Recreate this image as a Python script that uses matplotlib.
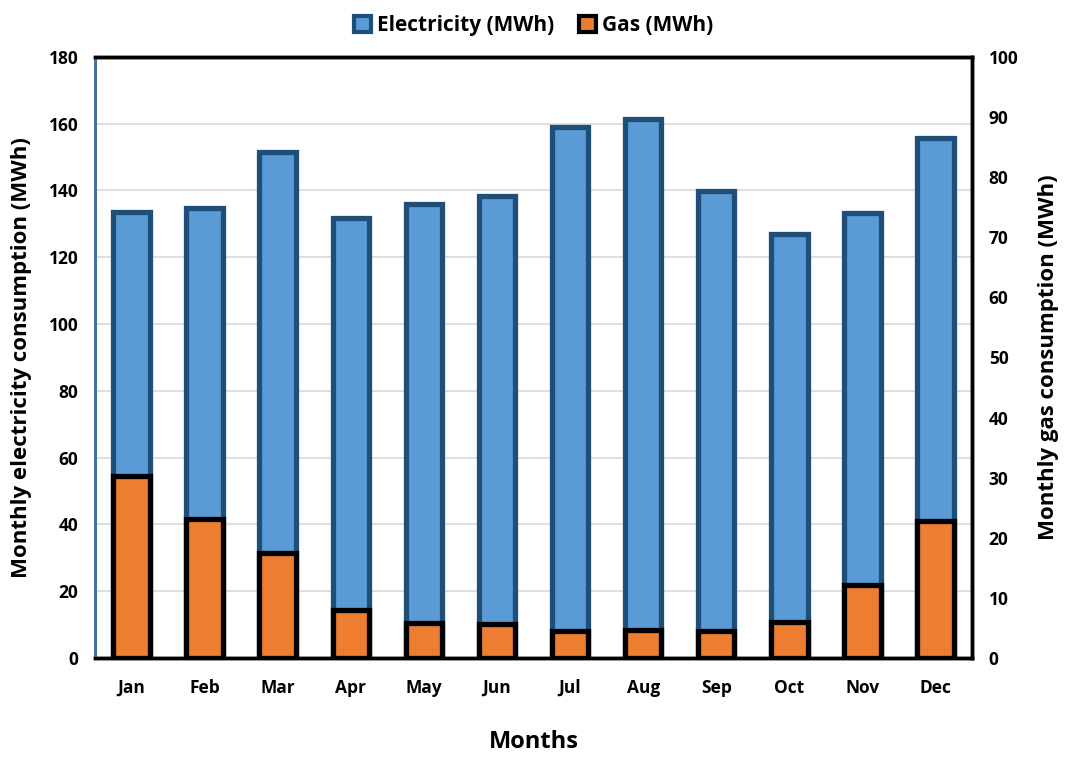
import numpy as np
import matplotlib
matplotlib.use('Agg')
import matplotlib.pyplot as plt
from matplotlib.patches import Patch

plt.rcParams['font.family'] = ['Open Sans', 'DejaVu Sans']
plt.rcParams['font.weight'] = 'bold'

months = ['Jan', 'Feb', 'Mar', 'Apr', 'May', 'Jun', 'Jul', 'Aug', 'Sep', 'Oct', 'Nov', 'Dec']
electricity = [133.6, 134.6, 151.6, 131.7, 135.9, 138.3, 159.0, 161.3, 139.8, 126.9, 133.1, 155.6]
gas = [30.2, 23.1, 17.4, 7.9, 5.8, 5.6, 4.4, 4.7, 4.5, 5.9, 12.1, 22.8]

elec_face = '#5B9BD5'
elec_edge = '#1F4E79'
gas_face = '#ED7D31'

fig = plt.figure(figsize=(10.67, 7.58), dpi=100)
ax = fig.add_axes([0.089, 0.132, 0.822, 0.793])
x = np.arange(len(months))

ax.bar(x, electricity, width=0.5, color=elec_face, edgecolor=elec_edge, linewidth=3.8, zorder=3)
ax.set_ylim(0, 180)
ax.set_yticks(range(0, 181, 20))
ax.set_xlim(-0.5, len(months) - 0.5)
ax.set_xticks(x)
ax.set_xticklabels(months)
ax.grid(axis='y', color='#D9D9D9', linewidth=1.2, zorder=0)
ax.set_axisbelow(True)
ax.tick_params(axis='y', length=0, labelsize=12.5, pad=12)
ax.tick_params(axis='x', length=0, labelsize=12.5, pad=15)
ax.set_ylabel('Monthly electricity consumption (MWh)', fontsize=16, fontweight='bold', labelpad=12)
ax.set_xlabel('Months', fontsize=17, fontweight='bold', labelpad=24)

ax2 = ax.twinx()
ax2.bar(x, gas, width=0.5, color=gas_face, edgecolor='black', linewidth=3.8, zorder=3)
ax2.set_ylim(0, 100)
ax2.set_yticks(range(0, 101, 10))
ax2.tick_params(length=0, labelsize=12.5, pad=12)
ax2.set_ylabel('Monthly gas consumption (MWh)', fontsize=16, fontweight='bold', labelpad=14)

for a in (ax, ax2):
    for s in ('top', 'right', 'bottom'):
        a.spines[s].set_color('black')
        a.spines[s].set_linewidth(2.5)
    a.spines['left'].set_color('#41719C')
    a.spines['left'].set_linewidth(2)

handles = [Patch(facecolor=elec_face, edgecolor=elec_edge, linewidth=3, label='Electricity (MWh)'),
           Patch(facecolor=gas_face, edgecolor='black', linewidth=3, label='Gas (MWh)')]
fig.legend(handles=handles, loc='upper center', bbox_to_anchor=(0.5, 1.005), ncol=2, frameon=False,
           fontsize=15, handlelength=0.8, handleheight=0.8, handletextpad=0.3, columnspacing=1.2)

fig.savefig('out.png', dpi=100)
